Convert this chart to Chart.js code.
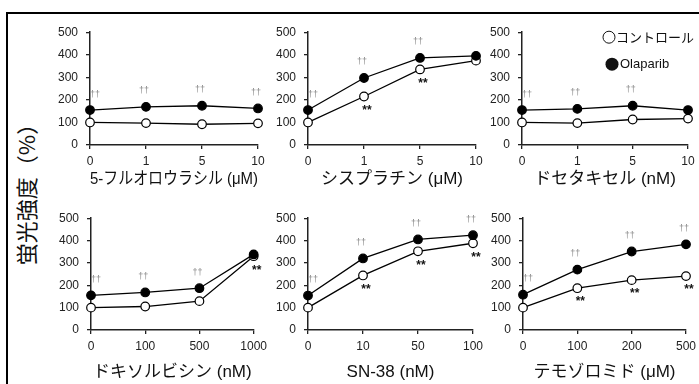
<!DOCTYPE html>
<html lang="ja">
<head>
<meta charset="UTF-8">
<title>蛍光強度</title>
<script src="https://cdn.jsdelivr.net/npm/chart.js"></script>
<style>
    body { margin: 0; background: #fff; }
    #page { position: relative; width: 699px; height: 384px; overflow: hidden; background: #fff; }
    #frame { position: absolute; left: 6px; top: 12px; width: 900px; height: 600px;
             border-top: 2px solid #000; border-left: 2px solid #000; }
    canvas { position: absolute; }
    #ytitle { position: absolute; left: 25px; top: 189px; transform: translate(-50%, -50%) rotate(-90deg);
              font-family: 'Noto Sans CJK JP', sans-serif; font-size: 22px; white-space: nowrap; color: #111; }
</style>
</head>
<body>
<div id="page">
    <div id="frame"></div>
    <div id="ytitle">蛍光強度（%）</div>
    <canvas id="c1"></canvas>
    <canvas id="c2"></canvas>
    <canvas id="c3"></canvas>
    <canvas id="c4"></canvas>
    <canvas id="c5"></canvas>
    <canvas id="c6"></canvas>
</div>
<script>
    // --- data ---
    const seriesNames = ['コントロール', 'Olaparib'];
    const yTicks = [0, 100, 200, 300, 400, 500];

    const fuTitle = '5-フルオロウラシル (μM)';
    const fuDoses = ['0', '1', '5', '10'];
    const fuControl = [100, 97, 92, 96];
    const fuOlaparib = [155, 169, 174, 162];
    const fuDaggers = [0, 1, 2, 3];
    const fuStars = [];

    const cisTitle = 'シスプラチン (μM)';
    const cisDoses = ['0', '1', '5', '10'];
    const cisControl = [100, 215, 335, 374];
    const cisOlaparib = [155, 297, 386, 395];
    const cisDaggers = [0, 1, 2];
    const cisStars = [1, 2];

    const docTitle = 'ドセタキセル (nM)';
    const docDoses = ['0', '1', '5', '10'];
    const docControl = [100, 97, 113, 117];
    const docOlaparib = [155, 160, 174, 155];
    const docDaggers = [0, 1, 2];
    const docStars = [];

    const doxTitle = 'ドキソルビシン (nM)';
    const doxDoses = ['0', '100', '500', '1000'];
    const doxControl = [100, 105, 129, 330];
    const doxOlaparib = [155, 168, 187, 338];
    const doxDaggers = [0, 1, 2];
    const doxStars = [3];

    const snTitle = 'SN-38 (nM)';
    const snDoses = ['0', '10', '50', '100'];
    const snControl = [100, 244, 352, 388];
    const snOlaparib = [154, 320, 405, 424];
    const snDaggers = [0, 1, 2, 3];
    const snStars = [1, 2, 3];

    const temTitle = 'テモゾロミド (μM)';
    const temDoses = ['0', '100', '200', '500'];
    const temControl = [100, 187, 223, 241];
    const temOlaparib = [158, 270, 351, 383];
    const temDaggers = [0, 1, 2, 3];
    const temStars = [1, 2, 3];

    const FONT = "'Liberation Sans', 'Noto Sans CJK JP', sans-serif";
    const Y_W = 45, PAD_R = 16, PAD_T = 10;

    // marks above/below points
    const marksPlugin = {
        id: 'marks',
        afterDatasetsDraw(chart, args, opts) {
            const ctx = chart.ctx;
            const olap = chart.getDatasetMeta(0).data;
            const ctrl = chart.getDatasetMeta(1).data;
            ctx.save();
            ctx.textAlign = 'center';
            ctx.textBaseline = 'middle';
            ctx.fillStyle = '#8a8a8a';
            ctx.font = '9px ' + FONT;
            opts.daggers.forEach(i => {
                const p = olap[i];
                ctx.fillText('††', p.x + (i === 0 ? 5 : -2), p.y - 16);
            });
            ctx.fillStyle = '#111';
            ctx.font = 'bold 12px ' + FONT;
            opts.stars.forEach(i => {
                const p = ctrl[i];
                ctx.fillText('**', p.x + 3, p.y + 14);
            });
            ctx.restore();
        }
    };

    // legend drawn inside the third panel
    const legendPlugin = {
        id: 'innerLegend',
        afterDraw(chart, args, opts) {
            if (!opts.show) return;
            const ctx = chart.ctx;
            const a = chart.chartArea;
            const ds = chart.data.datasets;
            ctx.save();
            ctx.textBaseline = 'middle';
            // control
            ctx.beginPath();
            ctx.arc(a.right - 79, a.top + 5, 6, 0, Math.PI * 2);
            ctx.fillStyle = '#fff';
            ctx.fill();
            ctx.lineWidth = 1;
            ctx.strokeStyle = '#111';
            ctx.stroke();
            ctx.fillStyle = '#111';
            ctx.font = "13px 'Noto Sans CJK JP', sans-serif";
            ctx.fillText(ds[1].label, a.right - 72, a.top + 5);
            // olaparib
            ctx.beginPath();
            ctx.arc(a.right - 76, a.top + 32, 6.5, 0, Math.PI * 2);
            ctx.fill();
            ctx.font = '13px ' + FONT;
            ctx.fillText(ds[0].label, a.right - 68, a.top + 32);
            ctx.restore();
        }
    };

    function makePanel(id, area, xH, title, doses, control, olaparib, daggers, stars, showLegend) {
        const cv = document.getElementById(id);
        const left = area.L - Y_W, top = area.T - PAD_T;
        const w = area.R + PAD_R - left, h = area.B + xH - top;
        cv.style.left = left + 'px';
        cv.style.top = top + 'px';
        cv.style.width = w + 'px';
        cv.style.height = h + 'px';
        cv.width = w;
        cv.height = h;

        return new Chart(cv, {
            type: 'line',
            data: {
                labels: doses,
                datasets: [{
                    label: seriesNames[1],
                    data: olaparib,
                    borderColor: '#000',
                    borderWidth: 1.3,
                    pointBackgroundColor: '#000',
                    pointBorderColor: '#000',
                    pointBorderWidth: 1.2,
                    pointRadius: 4.3,
                    clip: false
                }, {
                    label: seriesNames[0],
                    data: control,
                    borderColor: '#000',
                    borderWidth: 1.3,
                    pointBackgroundColor: '#fff',
                    pointBorderColor: '#000',
                    pointBorderWidth: 1.2,
                    pointRadius: 4.3,
                    clip: false
                }]
            },
            options: {
                responsive: false,
                animation: false,
                layout: { padding: { left: 0, right: PAD_R, top: PAD_T, bottom: 0 } },
                plugins: {
                    legend: { display: false },
                    tooltip: { enabled: false },
                    marks: { daggers: daggers, stars: stars },
                    innerLegend: { show: showLegend }
                },
                scales: {
                    x: {
                        offset: false,
                        grid: { drawOnChartArea: false, color: '#222', lineWidth: 1.3, tickLength: 4 },
                        border: { color: '#222', width: 1.5 },
                        ticks: { color: '#222', padding: 5, maxRotation: 0, font: { family: FONT, size: 12 } },
                        title: { display: true, text: title, color: '#111', padding: { top: 0, bottom: xH === 50 ? 5 : 0 },
                                 font: { family: FONT, size: 17 } },
                        afterFit(scale) { scale.height = xH; }
                    },
                    y: {
                        min: 0,
                        max: 500,
                        afterBuildTicks(scale) { scale.ticks = yTicks.map(v => ({ value: v })); },
                        grid: { drawOnChartArea: false, color: '#222', lineWidth: 1.3, tickLength: 4 },
                        border: { color: '#222', width: 1.5 },
                        ticks: { color: '#222', padding: 8, font: { family: FONT, size: 12 } },
                        afterFit(scale) { scale.width = Y_W; }
                    }
                }
            },
            plugins: [marksPlugin, legendPlugin]
        });
    }

    makePanel('c1', { L: 90, R: 258, T: 27, B: 145 }, 50, fuTitle, fuDoses, fuControl, fuOlaparib, fuDaggers, fuStars, false);
    makePanel('c2', { L: 308, R: 476, T: 27, B: 145 }, 50, cisTitle, cisDoses, cisControl, cisOlaparib, cisDaggers, cisStars, false);
    makePanel('c3', { L: 522, R: 688, T: 27, B: 145 }, 50, docTitle, docDoses, docControl, docOlaparib, docDaggers, docStars, true);
    makePanel('c4', { L: 91, R: 256, T: 213, B: 330 }, 53, doxTitle, doxDoses, doxControl, doxOlaparib, doxDaggers, doxStars, false);
    makePanel('c5', { L: 308, R: 473, T: 213, B: 330 }, 53, snTitle, snDoses, snControl, snOlaparib, snDaggers, snStars, false);
    makePanel('c6', { L: 523, R: 686, T: 213, B: 330 }, 53, temTitle, temDoses, temControl, temOlaparib, temDaggers, temStars, false);
</script>
</body>
</html>
